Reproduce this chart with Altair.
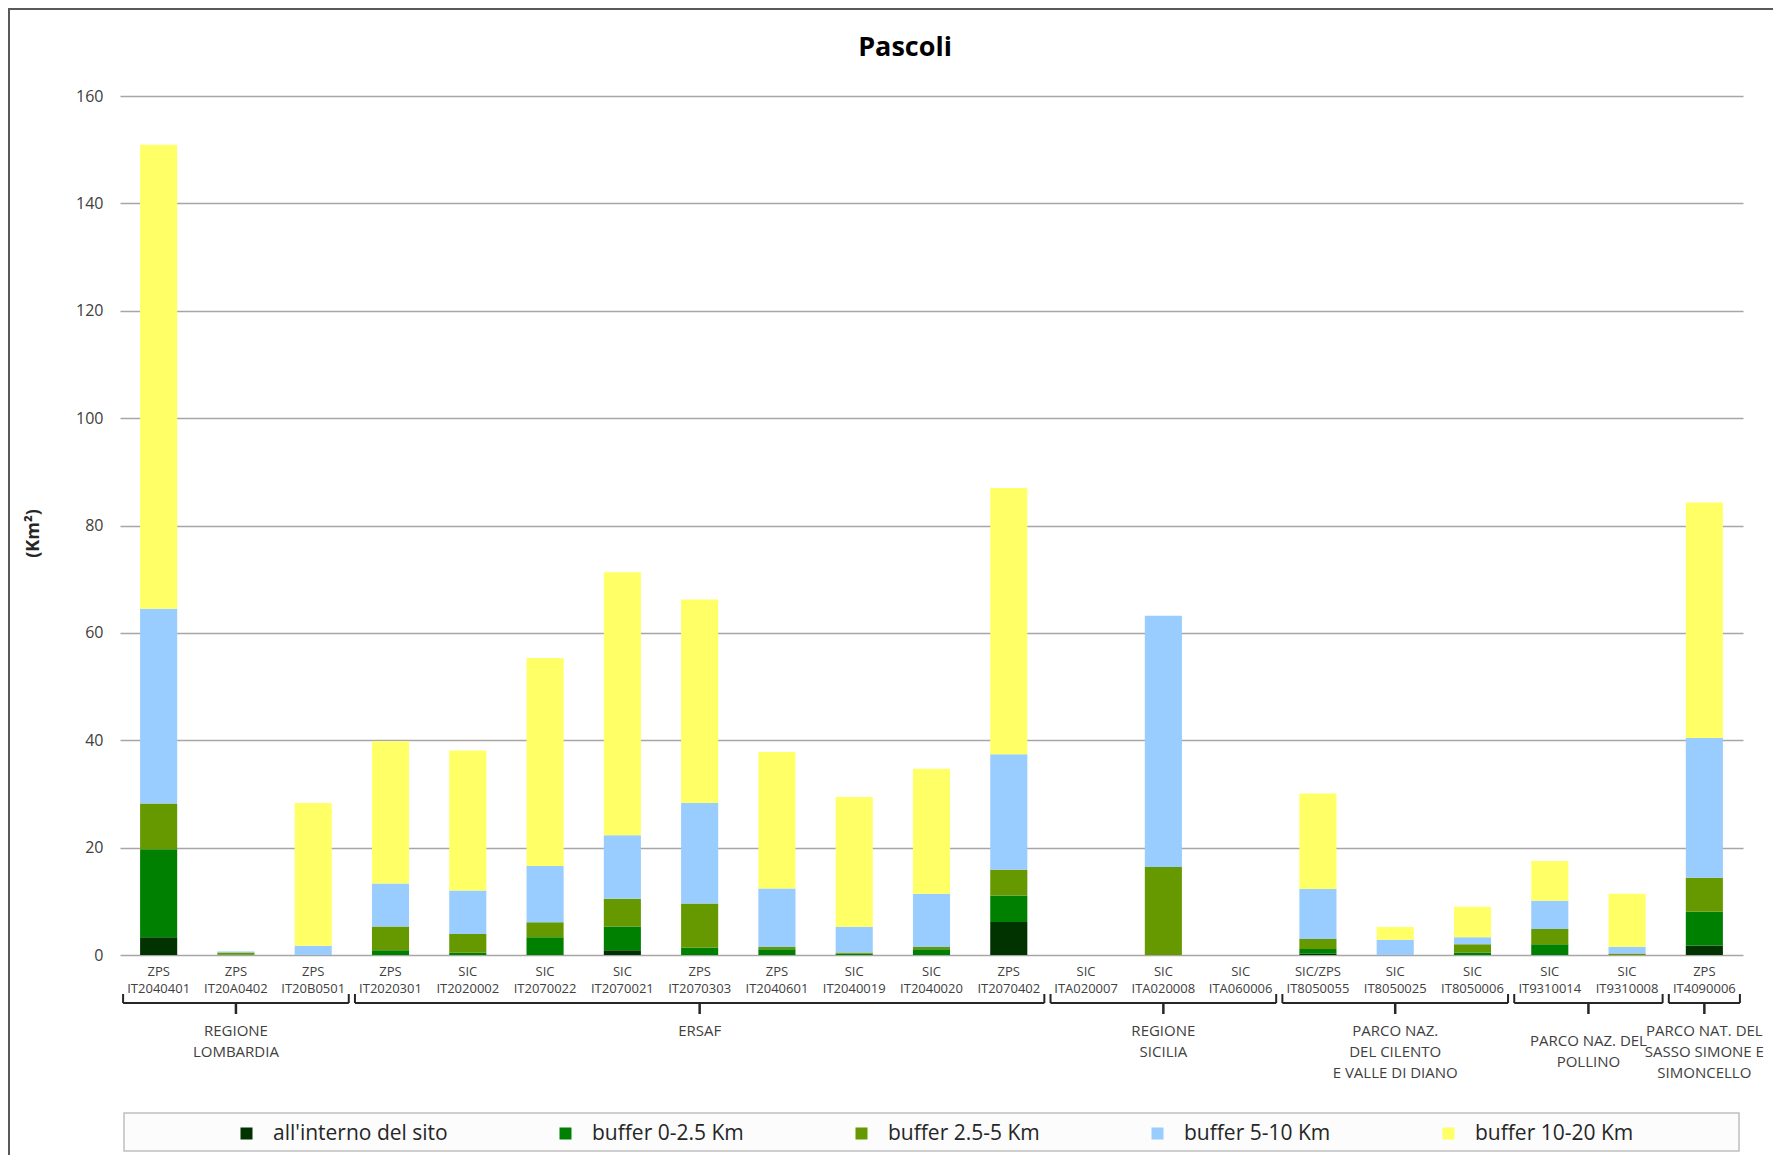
import altair as alt
import pandas as pd

# ---------------- data ----------------
chart_title = "Pascoli"
site_types = ["ZPS", "ZPS", "ZPS", "ZPS", "SIC", "SIC", "SIC", "ZPS", "ZPS", "SIC", "SIC",
              "ZPS", "SIC", "SIC", "SIC", "SIC/ZPS", "SIC", "SIC", "SIC", "SIC", "ZPS"]
site_codes = ["IT2040401", "IT20A0402", "IT20B0501", "IT2020301", "IT2020002", "IT2070022",
              "IT2070021", "IT2070303", "IT2040601", "IT2040019", "IT2040020", "IT2070402",
              "ITA020007", "ITA020008", "ITA060006", "IT8050055", "IT8050025", "IT8050006",
              "IT9310014", "IT9310008", "IT4090006"]

layers = ["all'interno del sito", "buffer 0-2.5 Km", "buffer 2.5-5 Km", "buffer 5-10 Km", "buffer 10-20 Km"]
colors = ["#003300", "#008000", "#669900", "#99CCFF", "#FFFF66"]

inside = [3.3, 0, 0, 0, 0, 0, 0.9, 0, 0, 0, 0, 6.15, 0, 0, 0, 0.25, 0, 0, 0, 0, 1.75]
buf_0_25 = [16.4, 0.05, 0, 0.9, 0.4, 3.3, 4.4, 1.4, 1.05, 0.25, 1.05, 4.95, 0, 0, 0, 0.85, 0, 0.45, 2.0, 0, 6.3]
buf_25_5 = [8.5, 0.4, 0, 4.4, 3.5, 2.8, 5.2, 8.2, 0.45, 0.2, 0.45, 4.8, 0, 16.4, 0, 1.9, 0, 1.55, 2.85, 0.3, 6.35]
buf_5_10 = [36.3, 0.2, 1.7, 8.0, 8.1, 10.5, 11.8, 18.7, 10.9, 4.8, 9.9, 21.5, 0, 46.8, 0, 9.3, 2.85, 1.3, 5.25, 1.25, 26.0]
buf_10_20 = [86.4, 0, 26.6, 26.5, 26.1, 38.7, 49.0, 37.9, 25.4, 24.2, 23.3, 49.6, 0, 0, 0, 17.8, 2.35, 5.7, 7.4, 9.85, 43.9]

group_labels = ["REGIONE\nLOMBARDIA", "ERSAF", "REGIONE\nSICILIA",
                "PARCO NAZ.\nDEL CILENTO\nE VALLE DI DIANO", "PARCO NAZ. DEL\nPOLLINO",
                "PARCO NAT. DEL\nSASSO SIMONE E\nSIMONCELLO"]
group_first = [0, 3, 12, 15, 18, 20]
group_last = [2, 11, 14, 17, 19, 20]

y_ticks = [0, 20, 40, 60, 80, 100, 120, 140, 160]

# ---------------- tables ----------------
series = [inside, buf_0_25, buf_25_5, buf_5_10, buf_10_20]
rows = []
for li, (name, vals) in enumerate(zip(layers, series)):
    for i, v in enumerate(vals):
        rows.append({"idx": i, "layer": name, "lorder": li, "value": v})
bars_df = pd.DataFrame(rows)

cats_df = pd.DataFrame({"idx": list(range(len(site_codes))),
                        "label": [t + "\n" + c for t, c in zip(site_types, site_codes)]})

groups_df = pd.DataFrame({"label": group_labels, "first": group_first, "last": group_last})
groups_df["bx0"] = groups_df["first"] - 0.5 + 0.04
groups_df["bx1"] = groups_df["last"] + 0.5 - 0.04
groups_df["mid"] = (groups_df["first"] + groups_df["last"]) / 2

title_df = pd.DataFrame({"t": [chart_title]})

W, H = 1623, 859
FONT = "Open Sans"
xscale = alt.Scale(domain=[-0.5, len(site_codes) - 0.5], nice=False, zero=False)
yscale = alt.Scale(domain=[0, 160], nice=False)

# ---------------- layers ----------------
bars = alt.Chart(bars_df).transform_stack(
    stack="value", as_=["v0", "v1"], groupby=["idx"],
    sort=[alt.SortField("lorder", order="ascending")]
).transform_filter("datum.value > 0").transform_calculate(
    x0="datum.idx - 0.24", x1="datum.idx + 0.24"
).mark_bar().encode(
    x=alt.X("x0:Q", scale=xscale, axis=None),
    x2="x1:Q",
    y=alt.Y("v0:Q", scale=yscale,
            axis=alt.Axis(values=y_ticks, title="(Km²)", grid=True, gridColor="#a6a6a6",
                          gridWidth=1.3, domain=False, ticks=False, tickSize=0,
                          labelPadding=17, labelFontSize=16, labelFont=FONT,
                          labelColor="#404040", titleFont=FONT, titleFontSize=18,
                          titleFontWeight="bold", titleColor="#262626",
                          titleX=-87, titleY=437, titleAngle=270, titleAlign="center",
                          titleBaseline="middle")),
    y2="v1:Q",
    color=alt.Color("layer:N", sort=layers,
                    scale=alt.Scale(domain=layers, range=colors),
                    legend=alt.Legend(title=None, orient="none", legendX=116, legendY=1027,
                                      direction="horizontal", gridAlign="none",
                                      columnPadding=107, labelOffset=16, padding=0,
                                      symbolType="square", symbolSize=144,
                                      symbolStrokeWidth=0, labelFont=FONT,
                                      labelFontSize=21, labelColor="#262626",
                                      labelLimit=400)),
)

title_text = alt.Chart(title_df).mark_text(
    font=FONT, fontSize=27, fontWeight="bold", color="#000000",
    align="center", baseline="alphabetic"
).encode(x=alt.value(785), y=alt.value(-40), text="t:N")

cat_text = alt.Chart(cats_df).mark_text(
    lineBreak="\n", baseline="top", align="center", font=FONT, fontSize=13,
    lineHeight=17, color="#404040"
).encode(x=alt.X("idx:Q", scale=xscale, axis=None), y=alt.value(870), text="label:N")

brace_line = alt.Chart(groups_df).mark_rule(color="#262626", strokeWidth=2).encode(
    x=alt.X("bx0:Q", scale=xscale, axis=None), x2="bx1:Q", y=alt.value(907))
brace_left = alt.Chart(groups_df).mark_rule(color="#262626", strokeWidth=2).encode(
    x=alt.X("bx0:Q", scale=xscale, axis=None), y=alt.value(898), y2=alt.value(907))
brace_right = alt.Chart(groups_df).mark_rule(color="#262626", strokeWidth=2).encode(
    x=alt.X("bx1:Q", scale=xscale, axis=None), y=alt.value(898), y2=alt.value(907))
brace_mid = alt.Chart(groups_df).mark_rule(color="#262626", strokeWidth=2.5).encode(
    x=alt.X("mid:Q", scale=xscale, axis=None), y=alt.value(907), y2=alt.value(918))

grp_text_main = alt.Chart(groups_df).transform_filter("datum.first != 18").mark_text(
    lineBreak="\n", baseline="top", align="center", font=FONT, fontSize=15,
    lineHeight=21, color="#404040"
).encode(x=alt.X("mid:Q", scale=xscale, axis=None), y=alt.value(928), text="label:N")
grp_text_poll = alt.Chart(groups_df).transform_filter("datum.first == 18").mark_text(
    lineBreak="\n", baseline="top", align="center", font=FONT, fontSize=15,
    lineHeight=21, color="#404040"
).encode(x=alt.X("mid:Q", scale=xscale, axis=None), y=alt.value(938), text="label:N")

legend_box = alt.Chart(title_df).mark_rect(
    fill="#fcfcfc", stroke="#bfbfbf", strokeWidth=1.5
).encode(x=alt.value(4), x2=alt.value(1619), y=alt.value(1017), y2=alt.value(1055))

frame_left = alt.Chart(title_df).mark_rule(color="#595959", strokeWidth=2).encode(
    x=alt.value(-111), y=alt.value(-88), y2=alt.value(1070))
frame_top = alt.Chart(title_df).mark_rule(color="#595959", strokeWidth=2).encode(
    x=alt.value(-111), x2=alt.value(1660), y=alt.value(-87))

chart = alt.layer(
    legend_box, bars, title_text, cat_text, brace_line, brace_left, brace_right, brace_mid,
    grp_text_main, grp_text_poll, frame_left, frame_top
).properties(
    width=W, height=H,
    autosize=alt.AutoSizeParams(type="none"),
    padding={"left": 112, "top": 88, "right": 30, "bottom": 200},
    background="white",
).configure_view(stroke=None)

chart.save("out.html", embed_options={"renderer": "svg", "actions": False})
